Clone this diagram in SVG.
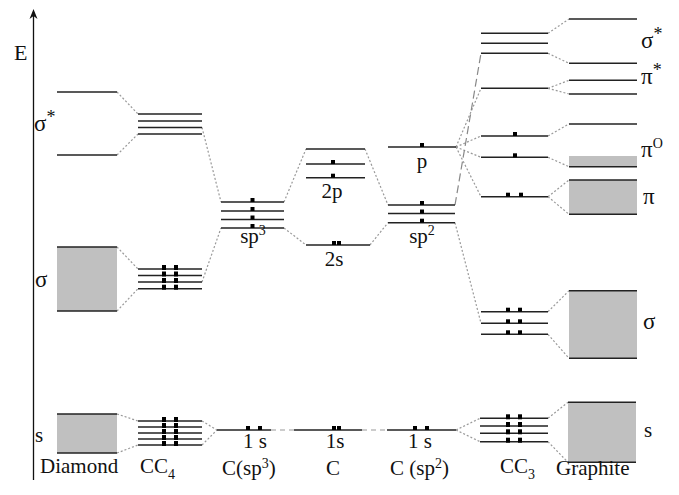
<svg xmlns="http://www.w3.org/2000/svg" width="679" height="495" viewBox="0 0 679 495">
<style>
.lv{stroke:#222;stroke-width:1.5;fill:none}
.band{fill:#c0c0c0;stroke:none}
.dot{fill:#000}
.cn{stroke:#999;stroke-width:1.2;stroke-dasharray:2 2;fill:none}
.ld{stroke:#888;stroke-width:1.2;stroke-dasharray:8 4;fill:none}
.sd{stroke:#999;stroke-width:1.2;stroke-dasharray:5 4;fill:none}
text{font-family:"Liberation Serif","Times New Roman",serif;fill:#111;font-size:21px}
.gk{font-size:23px}
.c{text-anchor:middle}
.sup{font-size:14px}
.ast{font-size:18px}
</style>
<g id="axis">
<line x1="33.5" y1="480" x2="33.5" y2="12" stroke="#111" stroke-width="1.3"/>
<path d="M29.5,19 L33.5,9 L37.5,19 L33.5,16 Z" fill="#111"/>
<text x="14" y="60" style="font-size:22px">E</text>
<text class="gk" x="34" y="131">σ<tspan class="ast" dy="-8">*</tspan></text>
<text x="35" y="287" class="gk">σ</text>
<text x="35" y="442">s</text>
</g>
<g id="connectors">
<line class="cn" x1="117" y1="92" x2="138" y2="114"/>
<line class="cn" x1="117" y1="155" x2="138" y2="134"/>
<line class="cn" x1="202" y1="127.5" x2="221" y2="202"/>
<line class="cn" x1="117" y1="247" x2="138" y2="269"/>
<line class="cn" x1="117" y1="311" x2="138" y2="288.7"/>
<line class="cn" x1="202" y1="282" x2="221" y2="228"/>
<line class="cn" x1="117" y1="414" x2="138" y2="421"/>
<line class="cn" x1="117" y1="453" x2="138" y2="445"/>
<line class="cn" x1="202" y1="421" x2="217" y2="430"/>
<line class="cn" x1="202" y1="445" x2="217" y2="430"/>
<line class="cn" x1="284" y1="202" x2="306" y2="149"/>
<line class="cn" x1="284" y1="228" x2="306" y2="245"/>
<line class="cn" x1="365" y1="149" x2="388" y2="205"/>
<line class="cn" x1="370" y1="245" x2="388" y2="222.7"/>
<line class="cn" x1="456" y1="147" x2="481" y2="88.3"/>
<line class="cn" x1="456" y1="147" x2="481" y2="136"/>
<line class="cn" x1="456" y1="147" x2="481" y2="157.3"/>
<line class="cn" x1="456" y1="147" x2="481" y2="196.7"/>
<line class="cn" x1="455" y1="222.7" x2="481" y2="323.3"/>
<line class="cn" x1="456" y1="430" x2="480" y2="418.3"/>
<line class="cn" x1="456" y1="430" x2="480" y2="441.7"/>
<line class="cn" x1="548" y1="33.3" x2="569" y2="19"/>
<line class="cn" x1="548" y1="53.3" x2="569" y2="63.3"/>
<line class="cn" x1="548" y1="88.3" x2="569" y2="80.3"/>
<line class="cn" x1="548" y1="88.3" x2="569" y2="94"/>
<line class="cn" x1="548" y1="136" x2="569" y2="124"/>
<line class="cn" x1="548" y1="157.3" x2="569" y2="166.7"/>
<line class="cn" x1="548" y1="196.7" x2="569" y2="180"/>
<line class="cn" x1="548" y1="196.7" x2="569" y2="214.3"/>
<line class="cn" x1="548" y1="311.7" x2="569" y2="290.7"/>
<line class="cn" x1="548" y1="334.3" x2="569" y2="358.3"/>
<line class="cn" x1="548" y1="418.3" x2="568" y2="402.3"/>
<line class="cn" x1="548" y1="441.7" x2="568" y2="462.3"/>
<line class="ld" x1="455" y1="205" x2="481" y2="53.3"/>
<line class="sd" x1="271" y1="430" x2="294" y2="430"/>
<line class="sd" x1="362" y1="430" x2="387" y2="430"/>
</g>
<g id="diamond">
<line class="lv" x1="57" y1="92" x2="117" y2="92"/>
<line class="lv" x1="57" y1="155" x2="117" y2="155"/>
<rect class="band" x="57" y="247" width="60" height="64"/>
<line class="lv" x1="57" y1="247" x2="117" y2="247"/>
<line class="lv" x1="57" y1="311" x2="117" y2="311"/>
<rect class="band" x="57" y="414" width="60" height="39"/>
<line class="lv" x1="57" y1="414" x2="117" y2="414"/>
<line class="lv" x1="57" y1="453" x2="117" y2="453"/>
<text x="40" y="473">Diamond</text>
</g>
<g id="cc4">
<line class="lv" x1="138" y1="114" x2="202" y2="114"/>
<line class="lv" x1="138" y1="121" x2="202" y2="121"/>
<line class="lv" x1="138" y1="127.5" x2="202" y2="127.5"/>
<line class="lv" x1="138" y1="134" x2="202" y2="134"/>
<line class="lv" x1="138" y1="269" x2="202" y2="269"/>
<line class="lv" x1="138" y1="275.5" x2="202" y2="275.5"/>
<line class="lv" x1="138" y1="282" x2="202" y2="282"/>
<line class="lv" x1="138" y1="288.7" x2="202" y2="288.7"/>
<rect class="dot" x="162" y="265" width="4" height="5"/><rect class="dot" x="174" y="265" width="4" height="5"/>
<rect class="dot" x="162" y="271.5" width="4" height="5"/><rect class="dot" x="174" y="271.5" width="4" height="5"/>
<rect class="dot" x="162" y="278" width="4" height="5"/><rect class="dot" x="174" y="278" width="4" height="5"/>
<rect class="dot" x="162" y="284.7" width="4" height="5"/><rect class="dot" x="174" y="284.7" width="4" height="5"/>
<line class="lv" x1="138" y1="421" x2="202" y2="421"/>
<line class="lv" x1="138" y1="427" x2="202" y2="427"/>
<line class="lv" x1="138" y1="433" x2="202" y2="433"/>
<line class="lv" x1="138" y1="439" x2="202" y2="439"/>
<line class="lv" x1="138" y1="445" x2="202" y2="445"/>
<rect class="dot" x="162" y="417" width="4" height="5"/><rect class="dot" x="174" y="417" width="4" height="5"/>
<rect class="dot" x="162" y="423" width="4" height="5"/><rect class="dot" x="174" y="423" width="4" height="5"/>
<rect class="dot" x="162" y="429" width="4" height="5"/><rect class="dot" x="174" y="429" width="4" height="5"/>
<rect class="dot" x="162" y="435" width="4" height="5"/><rect class="dot" x="174" y="435" width="4" height="5"/>
<rect class="dot" x="162" y="441" width="4" height="5"/><rect class="dot" x="174" y="441" width="4" height="5"/>
<text x="140" y="473">CC<tspan class="sup" dy="6">4</tspan></text>
</g>
<g id="csp3">
<line class="lv" x1="221" y1="202" x2="284" y2="202"/>
<line class="lv" x1="221" y1="211" x2="284" y2="211"/>
<line class="lv" x1="221" y1="219.5" x2="284" y2="219.5"/>
<line class="lv" x1="221" y1="228" x2="284" y2="228"/>
<rect class="dot" x="250.5" y="198" width="4" height="4"/>
<rect class="dot" x="250.5" y="207" width="4" height="4"/>
<rect class="dot" x="250.5" y="215.5" width="4" height="4"/>
<rect class="dot" x="250.5" y="224" width="4" height="4"/>
<text class="c" x="253" y="243">sp<tspan class="sup" dy="-8">3</tspan></text>
<line class="lv" x1="217" y1="430" x2="271" y2="430"/>
<rect class="dot" x="246" y="426" width="4" height="4"/>
<rect class="dot" x="258" y="426" width="4" height="4"/>
<text class="c" x="255" y="448">1 s</text>
<text x="222" y="475">C(sp<tspan class="sup" dy="-7">3</tspan><tspan dy="7">)</tspan></text>
</g>
<g id="c">
<line class="lv" x1="306" y1="149" x2="365" y2="149"/>
<line class="lv" x1="306" y1="164" x2="365" y2="164"/>
<line class="lv" x1="306" y1="177.7" x2="365" y2="177.7"/>
<rect class="dot" x="331" y="160" width="4" height="4"/>
<rect class="dot" x="331" y="173.7" width="4" height="4"/>
<text class="c" x="332" y="198">2p</text>
<line class="lv" x1="306" y1="245" x2="370" y2="245"/>
<rect class="dot" x="332" y="241" width="4" height="4"/>
<rect class="dot" x="337" y="241" width="4" height="4"/>
<text class="c" x="334" y="266">2s</text>
<line class="lv" x1="294" y1="430" x2="362" y2="430"/>
<rect class="dot" x="332" y="426" width="4" height="4"/>
<rect class="dot" x="337" y="426" width="4" height="4"/>
<text class="c" x="335" y="448">1s</text>
<text class="c" x="333" y="475">C</text>
</g>
<g id="csp2">
<line class="lv" x1="388" y1="147" x2="456" y2="147"/>
<rect class="dot" x="420" y="143" width="4" height="4"/>
<text class="c" x="422" y="168">p</text>
<line class="lv" x1="388" y1="205" x2="455" y2="205"/>
<line class="lv" x1="388" y1="213.5" x2="455" y2="213.5"/>
<line class="lv" x1="388" y1="222.7" x2="455" y2="222.7"/>
<rect class="dot" x="420" y="201" width="4" height="4"/>
<rect class="dot" x="420" y="209.5" width="4" height="4"/>
<rect class="dot" x="420" y="218.7" width="4" height="4"/>
<text class="c" x="422" y="243">sp<tspan class="sup" dy="-8">2</tspan></text>
<line class="lv" x1="387" y1="430" x2="456" y2="430"/>
<rect class="dot" x="413" y="426" width="4" height="4"/>
<rect class="dot" x="425" y="426" width="4" height="4"/>
<text class="c" x="420" y="448">1 s</text>
<text x="390" y="475">C (sp<tspan class="sup" dy="-7">2</tspan><tspan dy="7">)</tspan></text>
</g>
<g id="cc3">
<line class="lv" x1="481" y1="33.3" x2="548" y2="33.3"/>
<line class="lv" x1="481" y1="43.3" x2="548" y2="43.3"/>
<line class="lv" x1="481" y1="53.3" x2="548" y2="53.3"/>
<line class="lv" x1="481" y1="88.3" x2="548" y2="88.3"/>
<line class="lv" x1="481" y1="136" x2="548" y2="136"/>
<rect class="dot" x="513" y="132" width="4" height="4"/>
<line class="lv" x1="481" y1="157.3" x2="548" y2="157.3"/>
<rect class="dot" x="513" y="153.3" width="4" height="4"/>
<line class="lv" x1="481" y1="196.7" x2="548" y2="196.7"/>
<rect class="dot" x="506" y="192.7" width="4" height="4"/>
<rect class="dot" x="519" y="192.7" width="4" height="4"/>
<line class="lv" x1="481" y1="311.7" x2="548" y2="311.7"/>
<line class="lv" x1="481" y1="323.3" x2="548" y2="323.3"/>
<line class="lv" x1="481" y1="334.3" x2="548" y2="334.3"/>
<rect class="dot" x="506" y="307.7" width="4" height="4"/><rect class="dot" x="518" y="307.7" width="4" height="4"/>
<rect class="dot" x="506" y="319.3" width="4" height="4"/><rect class="dot" x="518" y="319.3" width="4" height="4"/>
<rect class="dot" x="506" y="330.3" width="4" height="4"/><rect class="dot" x="518" y="330.3" width="4" height="4"/>
<line class="lv" x1="480" y1="418.3" x2="548" y2="418.3"/>
<line class="lv" x1="480" y1="426" x2="548" y2="426"/>
<line class="lv" x1="480" y1="433.3" x2="548" y2="433.3"/>
<line class="lv" x1="480" y1="441.7" x2="548" y2="441.7"/>
<rect class="dot" x="506" y="414.3" width="4" height="5"/><rect class="dot" x="518" y="414.3" width="4" height="5"/>
<rect class="dot" x="506" y="422" width="4" height="5"/><rect class="dot" x="518" y="422" width="4" height="5"/>
<rect class="dot" x="506" y="429.3" width="4" height="5"/><rect class="dot" x="518" y="429.3" width="4" height="5"/>
<rect class="dot" x="506" y="437.7" width="4" height="5"/><rect class="dot" x="518" y="437.7" width="4" height="5"/>
<text x="500" y="473">CC<tspan class="sup" dy="6">3</tspan></text>
</g>
<g id="graphite">
<line class="lv" x1="569" y1="19" x2="637" y2="19"/>
<line class="lv" x1="569" y1="63.3" x2="637" y2="63.3"/>
<line class="lv" x1="569" y1="80.3" x2="637" y2="80.3"/>
<line class="lv" x1="569" y1="94" x2="637" y2="94"/>
<line class="lv" x1="569" y1="124" x2="637" y2="124"/>
<rect class="band" x="569" y="156" width="68" height="10.7"/>
<line class="lv" x1="569" y1="166.7" x2="637" y2="166.7"/>
<rect class="band" x="569" y="180" width="68" height="34.3"/>
<line class="lv" x1="569" y1="180" x2="637" y2="180"/>
<line class="lv" x1="569" y1="214.3" x2="637" y2="214.3"/>
<rect class="band" x="569" y="290.7" width="68" height="67.6"/>
<line class="lv" x1="569" y1="290.7" x2="637" y2="290.7"/>
<line class="lv" x1="569" y1="358.3" x2="637" y2="358.3"/>
<rect class="band" x="568" y="402.3" width="68" height="60"/>
<line class="lv" x1="568" y1="402.3" x2="636" y2="402.3"/>
<line class="lv" x1="568" y1="462.3" x2="636" y2="462.3"/>
<text class="gk" x="641" y="48">σ<tspan class="ast" dy="-8">*</tspan></text>
<text class="gk" x="641" y="84">π<tspan class="ast" dy="-8">*</tspan></text>
<text class="gk" x="641" y="157">π<tspan class="sup" dy="-9">O</tspan></text>
<text class="gk" x="643" y="204">π</text>
<text class="gk" x="643" y="329">σ</text>
<text x="644" y="437">s</text>
<text x="556" y="475">Graphite</text>
</g>
</svg>
